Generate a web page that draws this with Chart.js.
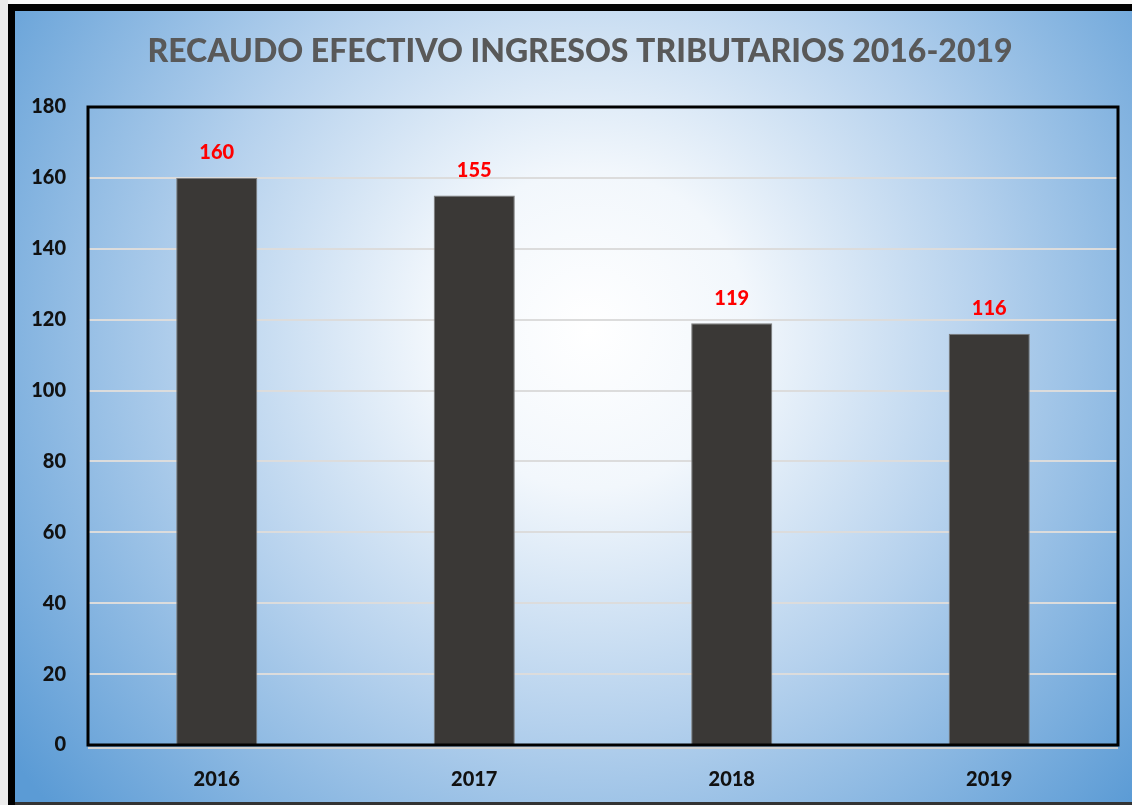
<!DOCTYPE html>
<html lang="es">
<head>
<meta charset="UTF-8">
<title>Recaudo efectivo ingresos tributarios 2016-2019</title>
<script src="https://cdn.jsdelivr.net/npm/chart.js"></script>
<style>
  html, body { margin: 0; padding: 0; background: #ececec; }
  #wrap { width: 1132px; height: 805px; position: relative; }
</style>
</head>
<body>
<div id="wrap"><canvas id="chart"></canvas></div>
<script>
const years = ["2016", "2017", "2018", "2019"];
const recaudo = [160, 155, 119, 116];
const titleText = "RECAUDO EFECTIVO INGRESOS TRIBUTARIOS 2016-2019";

const fontFamily = "Lato, 'Open Sans', sans-serif";

// background: grey page, black frame, radial blue gradient
const backgroundPlugin = {
    id: "bg",
    beforeDraw(chart) {
        const ctx = chart.ctx;
        const w = chart.width, h = chart.height;
        ctx.save();
        ctx.fillStyle = "#ececec";
        ctx.fillRect(0, 0, w, h);
        ctx.fillStyle = "#f7f7f7";
        ctx.fillRect(8, 0, w, 5);
        ctx.fillStyle = "#000";
        ctx.fillRect(8, 4, w, h);
        const g = ctx.createRadialGradient(590, 330, 0, 590, 330, 720);
        g.addColorStop(0, "#ffffff");
        g.addColorStop(0.22, "#f2f7fc");
        g.addColorStop(0.55, "#b5d1ed");
        g.addColorStop(1, "#5b9bd5");
        ctx.fillStyle = g;
        ctx.fillRect(15, 11, w - 15, 791);
        ctx.fillStyle = "#333";
        ctx.fillRect(15, 802, w, 3);

        ctx.fillStyle = "#595959";
        ctx.font = "900 32px " + fontFamily;
        ctx.textAlign = "center";
        ctx.textBaseline = "middle";
        ctx.fillText(titleText, 580, 52);
        ctx.restore();
    }
};

// plot area frame and red value labels
const framePlugin = {
    id: "frame",
    afterDraw(chart) {
        const ctx = chart.ctx;
        const a = chart.chartArea;
        ctx.save();
        ctx.strokeStyle = "#000";
        ctx.lineWidth = 3;
        ctx.strokeRect(a.left, a.top, a.right - a.left, a.bottom - a.top);
        ctx.strokeStyle = "#d0d0d0";
        ctx.lineWidth = 2;
        ctx.beginPath();
        ctx.moveTo(a.left, a.bottom + 3);
        ctx.lineTo(a.right, a.bottom + 3);
        ctx.stroke();

        ctx.fillStyle = "#ff0000";
        ctx.font = "900 20px " + fontFamily;
        ctx.textAlign = "center";
        ctx.textBaseline = "middle";
        chart.getDatasetMeta(0).data.forEach((bar, i) => {
            ctx.fillText(String(recaudo[i]), bar.x, bar.y - 25);
        });
        ctx.restore();
    }
};

new Chart(document.getElementById("chart"), {
    type: "bar",
    data: {
        labels: years,
        datasets: [{
            data: recaudo,
            backgroundColor: "#3a3836",
            borderColor: "#7c7c7c",
            borderWidth: 1,
            categoryPercentage: 1,
            barPercentage: 0.315
        }]
    },
    options: {
        responsive: true,
        maintainAspectRatio: false,
        animation: false,
        layout: { padding: { left: 0, top: 107, right: 14, bottom: 0 } },
        plugins: {
            legend: { display: false },
            title: { display: false },
            tooltip: { enabled: false }
        },
        scales: {
            x: {
                grid: { display: false, drawTicks: false },
                border: { display: false },
                ticks: {
                    color: "#111",
                    padding: 23,
                    font: { family: fontFamily, size: 20, weight: "900" }
                },
                afterFit(scale) { scale.height = 60; }
            },
            y: {
                min: 0,
                max: 180,
                grid: {
                    color: "#dcdcdc",
                    lineWidth: 2,
                    drawTicks: false
                },
                border: { display: false },
                ticks: {
                    stepSize: 20,
                    color: "#111",
                    padding: 22,
                    font: { family: fontFamily, size: 20, weight: "900" }
                },
                afterFit(scale) { scale.width = 88; }
            }
        }
    },
    plugins: [backgroundPlugin, framePlugin]
});
</script>
</body>
</html>
